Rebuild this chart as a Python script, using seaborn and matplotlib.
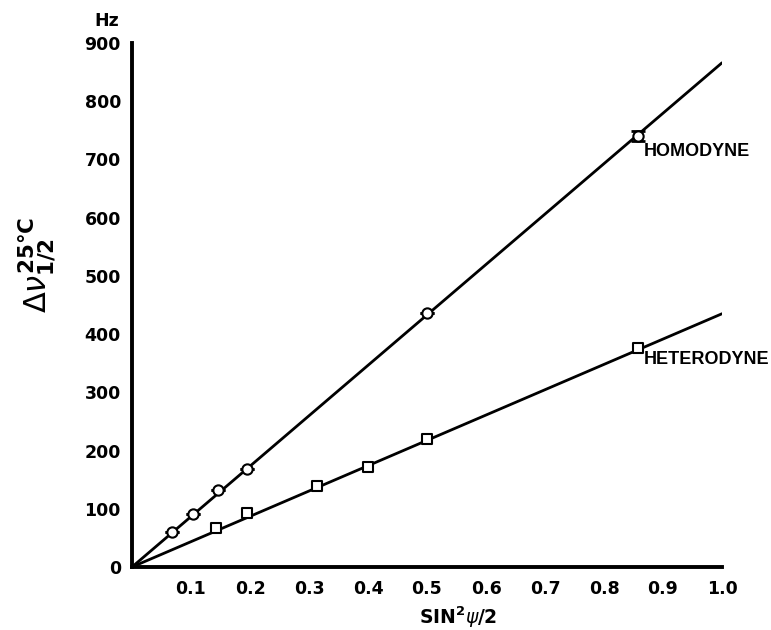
import matplotlib
matplotlib.use("Agg")
import matplotlib.pyplot as plt
import seaborn as sns
import pandas as pd

# ---- data ----
homo_x = [0.068, 0.104, 0.145, 0.195, 0.500, 0.857]
homo_y = [60, 91, 132, 168, 436, 740]
homo_err = [0, 0, 0, 0, 0, 8]

hetero_x = [0.143, 0.195, 0.314, 0.400, 0.500, 0.857]
hetero_y = [67, 93, 139, 172, 220, 376]

fit_x = [0.0, 1.0]
homo_fit = [0, 866]
hetero_fit = [0, 435]

x_ticks = [0.1, 0.2, 0.3, 0.4, 0.5, 0.6, 0.7, 0.8, 0.9, 1.0]
x_ticklabels = ["0.1", "0.2", "0.3", "0.4", "0.5", "0.6", "0.7", "0.8", "0.9", "1.0"]
y_ticks = [0, 100, 200, 300, 400, 500, 600, 700, 800, 900]

sns.set_style("white")
plt.rcParams['font.family'] = ['DejaVu Sans']
plt.rcParams['text.color'] = 'black'

fig = plt.figure(figsize=(7.71, 6.30), dpi=100)
ax = fig.add_axes([132/771, 1-567/630, (722-132)/771, (567-43)/630])

fits = pd.DataFrame({"x": fit_x * 2,
                     "y": homo_fit + hetero_fit,
                     "series": ["homo"] * 2 + ["hetero"] * 2})
sns.lineplot(data=fits, x="x", y="y", units="series", estimator=None,
             color="black", lw=2.0, ax=ax, legend=False, zorder=2)

ax.errorbar(homo_x, homo_y, yerr=homo_err, fmt="none", ecolor="black",
            elinewidth=1.5, capsize=5, capthick=2, zorder=3)

pts_h = pd.DataFrame({"x": homo_x, "y": homo_y})
pts_t = pd.DataFrame({"x": hetero_x, "y": hetero_y})
sns.scatterplot(data=pts_h, x="x", y="y", marker="o", s=55, facecolor="white",
                edgecolor="black", linewidth=1.5, ax=ax, zorder=4, clip_on=False)
sns.scatterplot(data=pts_t, x="x", y="y", marker="s", s=50, facecolor="white",
                edgecolor="black", linewidth=1.5, ax=ax, zorder=4, clip_on=False)

ax.set_xlim(0, 1.0)
ax.set_ylim(0, 900)
for s in ["top", "right"]:
    ax.spines[s].set_visible(False)
for s in ["left", "bottom"]:
    ax.spines[s].set_linewidth(2.8)
    ax.spines[s].set_color("black")

ax.set_xticks(x_ticks)
ax.set_xticklabels(x_ticklabels, fontsize=12.5, fontweight="bold")
ax.set_yticks(y_ticks)
ax.set_yticklabels([str(v) for v in y_ticks], fontsize=12.5, fontweight="bold")
ax.tick_params(axis="x", direction="in", length=7, width=2, pad=9, colors="black")
ax.tick_params(axis="y", direction="out", length=6, width=2, pad=2, colors="black")
ax.set_xlabel("")
ax.set_ylabel("")

lab_font = ["Liberation Sans", "DejaVu Sans"]
ax.text(0.868, 713, "HOMODYNE", fontsize=13, fontweight="bold",
        family=lab_font, ha="left", va="center")
ax.text(0.868, 357, "HETERODYNE", fontsize=13, fontweight="bold",
        family=lab_font, ha="left", va="center")

fig.text(107/771, 1-21/630, "Hz", fontsize=12.5, fontweight="bold",
         ha="center", va="center")
fig.text(37/771, 1-265/630, r"$\Delta\nu^{\mathbf{25°C}}_{\mathbf{1/2}}$",
         fontsize=22, rotation=90, ha="center", va="center")
fig.text(458/771, 1-617/630, r"SIN$^{\mathbf{2}}\psi$/2", fontsize=13.5,
         fontweight="bold", ha="center", va="center")

fig.savefig("out.png", dpi=100)
